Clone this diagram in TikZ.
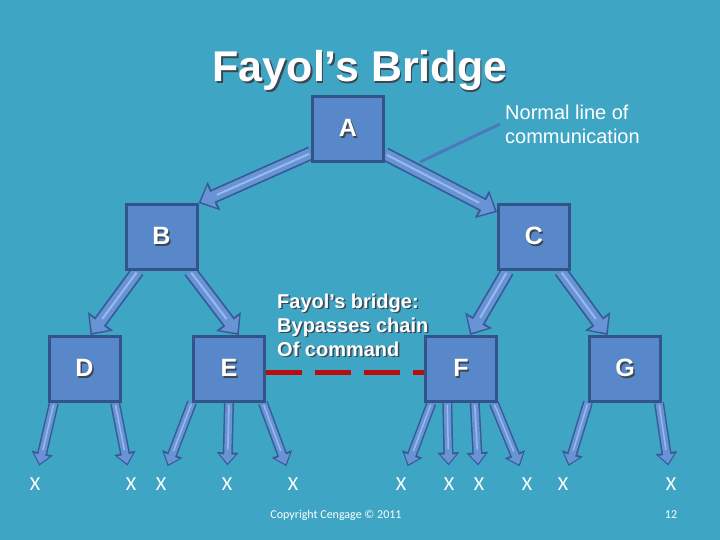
\documentclass[tikz,border=0pt]{standalone}
\usepackage{fontspec}
\setmainfont{Liberation Sans}
\newfontfamily\calibri{Carlito}
\usepackage{tikz}
\usetikzlibrary{arrows.meta,positioning}
\usepackage{xcolor}
\definecolor{slidebg}{RGB}{62,165,196}
\definecolor{boxcol}{RGB}{88,136,201}
\definecolor{boxedge}{RGB}{50,84,136}
\definecolor{arrowcol}{RGB}{104,148,214}
\definecolor{arrowedge}{RGB}{56,90,152}
\definecolor{arrowlight}{RGB}{150,186,236}
\definecolor{pointercol}{RGB}{78,120,190}
\definecolor{bridgered}{RGB}{182,14,14}
\definecolor{shade}{RGB}{60,70,80}
\newcommand{\shtext}[1]{\rlap{\kern1.5pt\raisebox{-1.5pt}{\textcolor{shade}{#1}}}#1}

\pgfdeclarelayer{back}
\pgfsetlayers{back,main}

\tikzset{
  orgbox/.style={rectangle,draw=boxedge,fill=boxcol,line width=3pt,minimum width=71pt,minimum height=65pt,text=white,font=\fontsize{25}{30}\selectfont\bfseries},
  bigarrow/.style={draw=arrowcol,line width=10.5pt,shorten >=2.5pt,-{Triangle[width=23pt,length=12.5pt]},
    preaction={draw=arrowedge,line width=14pt,shorten >=0pt,-{Triangle[width=30pt,length=17pt]}},
    postaction={draw=arrowlight,line width=2pt,shorten >=20pt,shorten <=2pt,arrows=-}},
  smallarrow/.style={draw=arrowcol,line width=7pt,shorten >=14pt,-{Triangle[width=15pt,length=9pt]},
    preaction={draw=arrowedge,line width=10pt,shorten >=12pt,-{Triangle[width=21pt,length=13pt]}},
    postaction={draw=arrowlight,line width=1.5pt,shorten >=28pt,shorten <=2pt,arrows=-}},
  leaf/.style={font=\calibri\fontsize{20}{24}\selectfont,text=white,inner sep=0pt},
  pointer/.style={draw=pointercol,line width=3pt},
  bridge/.style={draw=bridgered,line width=5pt,dash pattern=on 36pt off 13pt}
}

\begin{document}
\begin{tikzpicture}[x=1pt,y=-1pt]
\useasboundingbox (0,0) rectangle (720,540);
\begin{pgfonlayer}{back}
\fill[slidebg] (0,0) rectangle (720,540);
\end{pgfonlayer}

% Title
\node[font=\fontsize{43}{50}\selectfont\bfseries,text=white,anchor=base] (title) at (360,82) {\shtext{Fayol’s Bridge}};

% Boxes
\node[orgbox] (A) at (348,129) {\shtext{A}};
\node[orgbox] (B) at (161.5,237) {\shtext{B}};
\node[orgbox] (C) at (534,237) {\shtext{C}};
\node[orgbox] (D) at (84.5,369) {\shtext{D}};
\node[orgbox] (E) at (229,369) {\shtext{E}};
\node[orgbox] (F) at (461,369) {\shtext{F}};
\node[orgbox] (G) at (625,369) {\shtext{G}};

% Bottom row
\node[leaf] (x1) at (35,484) {X};
\node[leaf] (x2) at (131,484) {X};
\node[leaf] (x3) at (161,484) {X};
\node[leaf] (x4) at (227,484) {X};
\node[leaf] (x5) at (293,484) {X};
\node[leaf] (x6) at (401,484) {X};
\node[leaf] (x7) at (449,484) {X};
\node[leaf] (x8) at (479,484) {X};
\node[leaf] (x9) at (527,484) {X};
\node[leaf] (x10) at (563,484) {X};
\node[leaf] (x11) at (671,484) {X};

% Notes
\node[font=\fontsize{20}{24}\selectfont,text=white,align=left,anchor=west,inner sep=5pt] (note) at (500,124) {Normal line of\\communication};
\node[font=\fontsize{20}{24}\selectfont\bfseries,text=white,align=left,anchor=west,inner sep=0pt] (bridgenote) at (277,326) {\shtext{Fayol’s bridge:}\\\shtext{Bypasses chain}\\\shtext{Of command}};
\coordinate (notetip) at (420,162);

% Footer
\node[font=\calibri\fontsize{12}{14}\selectfont,text=white] (copy) at (336,515) {Copyright Cengage © 2011};
\node[font=\calibri\fontsize{12}{14}\selectfont,text=white] (pageno) at (671,515) {12};

% Arrows
\begin{pgfonlayer}{back}
\draw[bigarrow] (A.213) -- (B.north east);
\draw[bigarrow] (A.326) -- (C.146);
\draw[bigarrow] (B.235) -- (D.80);
\draw[bigarrow] (B.310) -- (E.74);
\draw[bigarrow] (C.232) -- (F.75);
\draw[bigarrow] (C.308) -- (G.117);
\draw[smallarrow] (D.228) -- (x1);
\draw[smallarrow] (D.-48) -- (x2);
\draw[smallarrow] (E.222) -- (x3);
\draw[smallarrow] (E.south) -- (x4);
\draw[smallarrow] (E.-45) -- (x5);
\draw[smallarrow] (F.229) -- (x6);
\draw[smallarrow] (F.248) -- (x7);
\draw[smallarrow] (F.292) -- (x8);
\draw[smallarrow] (F.314) -- (x9);
\draw[smallarrow] (G.222) -- (x10);
\draw[smallarrow] (G.-45) -- (x11);
\end{pgfonlayer}
\draw[pointer] (note.west) -- (notetip);
\draw[bridge] ([yshift=-3pt]E.east) -- ([yshift=-3pt]F.west);

\end{tikzpicture}
\end{document}
